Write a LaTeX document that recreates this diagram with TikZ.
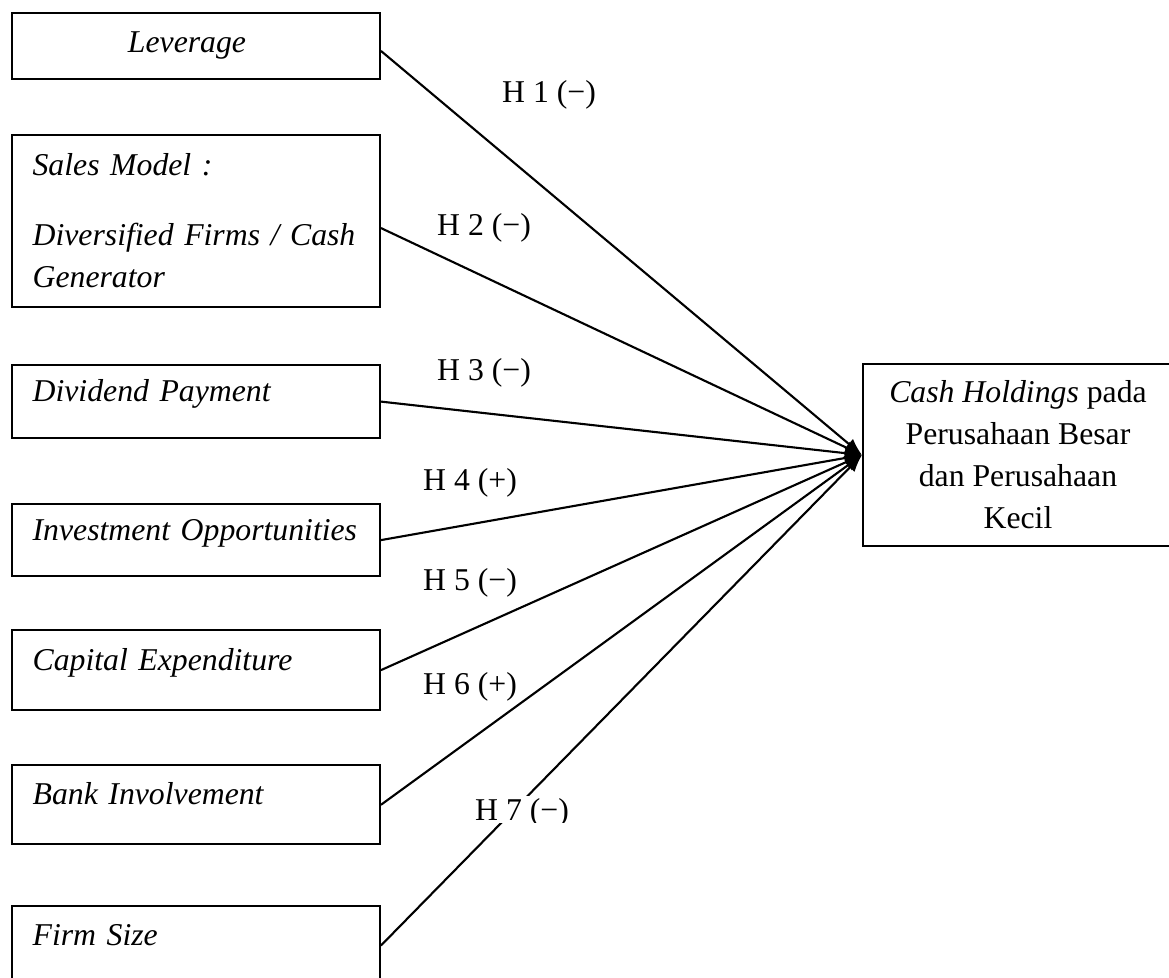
\documentclass[tikz,border=0pt]{standalone}
\usepackage{fontspec}
\setmainfont{Liberation Serif}
\usetikzlibrary{arrows.meta, positioning, calc}

\begin{document}
\begin{tikzpicture}[x=0.378pt, y=-0.378pt,
    font=\fontsize{12pt}{15.9pt}\selectfont,
    line width=0.75pt,
    varbox/.style={draw,
        minimum width=139.1pt,
        text width=123.5pt,
        inner xsep=7.8pt,
        align=left},
    oneline/.style={varbox,
        text height=8pt,
        text depth=8pt},
    hyp/.style={inner sep=1pt},
    link/.style={line width=0.8pt, -{Latex[length=6.5pt, width=5pt]}}
]
\useasboundingbox (0,0) rectangle (1169,978);

\node [draw,
    anchor=north west,
    minimum width=139.1pt,
    minimum height=24.9pt,
    align=center
] (leverage) at (11,12) {\textit{Leverage}\hspace*{6.8pt}};

\node [varbox,
    minimum height=65pt,
    below=20.5pt of leverage
] (sales) {\textit{Sales Model :}\\[10.6pt]\textit{Diversified Firms / Cash}\\\textit{Generator}};

\node [oneline,
    minimum height=27.6pt,
    below=21.2pt of sales
] (dividend) {\textit{Dividend Payment}};

\node [oneline,
    minimum height=27.2pt,
    below=24.2pt of dividend
] (investment) {\textit{Investment Opportunities}};

\node [oneline,
    minimum height=30.2pt,
    below=19.7pt of investment
] (capex) {\textit{Capital Expenditure}};

\node [oneline,
    minimum height=29.9pt,
    below=20.1pt of capex
] (bank) {\textit{Bank Involvement}};

\node [oneline,
    minimum height=30.2pt,
    below=22.4pt of bank
] (size) {\textit{Firm Size}};

\node [draw,
    minimum width=117.2pt,
    minimum height=68.8pt,
    align=center
] (cash) at (1018,455) {\textit{Cash Holdings} pada\\Perusahaan Besar\\dan Perusahaan\\Kecil};

% paths to the dependent variable
\draw [link] ($(leverage.east)+(0,5)$) -- (cash.west);
\draw [link] ($(sales.east)+(0,7)$) -- (cash.west);
\draw [link] (dividend.east) -- (cash.west);
\draw [link] (investment.east) -- (cash.west);
\draw [link] (capex.east) -- (cash.west);
\draw [link] (bank.east) -- (cash.west);
\draw [link] (size.east) -- (cash.west);

\node [hyp] (h1) at (549,95) {H 1 (−)};
\node [hyp] (h2) at (484,228) {H 2 (−)};
\node [hyp] (h3) at (484,373) {H 3 (−)};
\node [hyp] (h4) at (470,483) {H 4 (+)};
\node [hyp] (h5) at (470,583) {H 5 (−)};
\node [hyp] (h6) at (470,687) {H 6 (+)};

% label box cut off at its lower edge
\begin{scope}
\clip (462,796) rectangle (582,822);
\node [hyp, fill=white, inner sep=20pt] (h7) at (522,813) {H 7 (−)};
\end{scope}

\end{tikzpicture}
\end{document}
